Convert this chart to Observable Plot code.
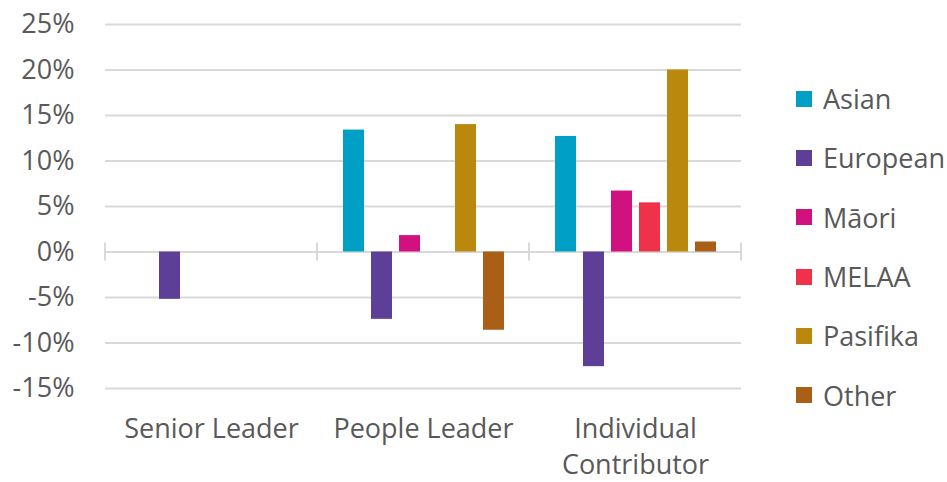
<!DOCTYPE html>
<html>
<head>
<meta charset="utf-8">
<script src="https://cdn.jsdelivr.net/npm/d3@7"></script>
<script src="https://cdn.jsdelivr.net/npm/@observablehq/plot@0.6"></script>
<style>
  html, body { margin: 0; padding: 0; background: #fff; }
  #chart { position: relative; width: 947px; height: 482px; font-family: "Open Sans", sans-serif; }
  #legend { position: absolute; left: 796px; top: 69px; display: flex; flex-direction: column; }
  #legend .item { height: 59.3px; display: flex; align-items: center; }
  #legend .swatch { width: 16px; height: 16px; margin-right: 11px; }
  #legend .label { font-size: 27px; color: #595959; line-height: 1; }
</style>
</head>
<body>
<div id="chart"><div id="legend"></div></div>
<script>
// Role levels along the horizontal axis
const categories = ["Senior Leader", "People Leader", "Individual Contributor"];
// Ethnic groups, in legend order
const groups = ["Asian", "European", "Māori", "MELAA", "Pasifika", "Other"];
const groupColors = ["#00a0c6", "#5e3f97", "#d0117f", "#ef3249", "#b9880c", "#aa5f16"];

// Percentage difference for each group, one value per role level
const asian    = [0, 13.4, 12.7];
const european = [-5.2, -7.4, -12.6];
const maori    = [0, 1.8, 6.7];
const melaa    = [0, 0, 5.4];
const pasifika = [0, 14.0, 20.0];
const other    = [0, -8.6, 1.1];

const yTicks = [-15, -10, -5, 0, 5, 10, 15, 20, 25];

const seriesValues = [asian, european, maori, melaa, pasifika, other];
const data = [];
categories.forEach((c, ci) => {
  groups.forEach((g, gi) => {
    data.push({category: c, group: g, value: seriesValues[gi][ci]});
  });
});

const textColor = "#595959";
const gridColor = "#d9d9d9";

const chart = Plot.plot({
  width: 947,
  height: 482,
  marginTop: 24,
  marginBottom: 94,
  marginLeft: 104,
  marginRight: 206,
  style: {fontFamily: "'Open Sans', sans-serif", fontSize: "27px", color: textColor, background: "#fff"},
  fx: {domain: categories, padding: 0, label: null},
  x: {domain: groups, paddingInner: 0.25, paddingOuter: 0.875, axis: null},
  y: {domain: [-15, 25], label: null},
  color: {domain: groups, range: groupColors},
  marks: [
    Plot.ruleY(yTicks, {stroke: gridColor, strokeWidth: 2}),
    Plot.barY(data, {fx: "category", x: "group", y: "value", fill: "group"}),
    Plot.axisY({
      ticks: yTicks, tickSize: 0, tickPadding: 31,
      tickFormat: d => d + "%", fill: textColor, fontSize: 27, label: null
    }),
    Plot.axisFx({
      anchor: "bottom", tickSize: 0, tickPadding: 24, label: null,
      tickFormat: d => d === "Individual Contributor" ? "Individual\nContributor" : d,
      lineHeight: 1.33, fill: textColor, fontSize: 27
    })
  ]
});

// Short separators on the zero line at the edges of each role level
const fx = chart.scale("fx");
const y = chart.scale("y");
const edges = categories.map(c => fx.apply(c)).concat([fx.apply(categories[categories.length - 1]) + fx.bandwidth]);
const y0 = y.apply(0);
d3.select(chart).append("g")
  .selectAll("line")
  .data(edges)
  .join("line")
  .attr("x1", d => d).attr("x2", d => d)
  .attr("y1", y0 - 9).attr("y2", y0 + 9)
  .attr("stroke", gridColor).attr("stroke-width", 2);

document.getElementById("chart").prepend(chart);

// Legend: one row per group
const legend = d3.select("#legend");
groups.forEach((g, i) => {
  const item = legend.append("div").attr("class", "item");
  item.append("div").attr("class", "swatch").style("background", groupColors[i]);
  item.append("div").attr("class", "label").text(g);
});
</script>
</body>
</html>
